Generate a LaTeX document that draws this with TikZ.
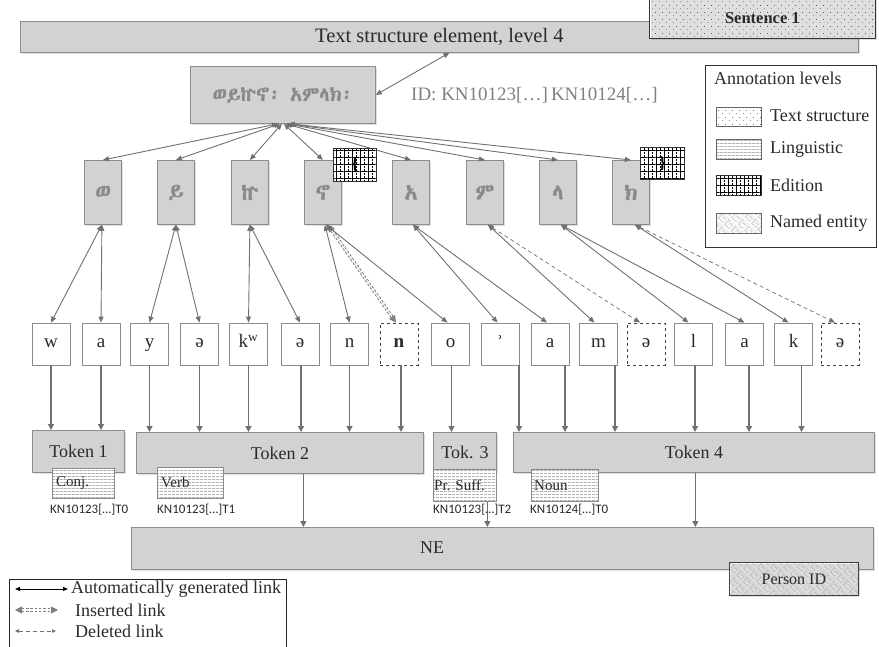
\documentclass[tikz,border=0pt]{standalone}
\usepackage{fontspec}
\setmainfont{Liberation Serif}
\newfontfamily\idfont{Carlito}
\newfontfamily\ipafont{DejaVu Serif}
\newfontfamily\ethfont[AutoFakeBold=1.2]{Abyssinica SIL}
\usetikzlibrary{arrows.meta,patterns,patterns.meta,shadows}
\definecolor{boxfill}{HTML}{D1D2D4}
\definecolor{boxline}{HTML}{8C8C8E}
\definecolor{arrc}{HTML}{707070}
\definecolor{ethgray}{HTML}{8A8A8A}
\definecolor{txt}{HTML}{2A2A2A}
\tikzdeclarepattern{name=tsdots, type=uncolored,
  bounding box={(0pt,0pt) and (7pt,7pt)}, tile size={(7pt,7pt)},
  code={\fill (1.5pt,1.5pt) circle (0.45pt); \fill (5pt,5pt) circle (0.45pt);}}
\tikzdeclarepattern{name=linglines, type=uncolored,
  bounding box={(0pt,-0.5pt) and (4pt,2.5pt)}, tile size={(4pt,3pt)},
  code={\draw[line width=0.55pt] (0pt,0pt) -- (4pt,0pt);}}
\tikzdeclarepattern{name=edgrid, type=uncolored,
  bounding box={(-0.5pt,-0.5pt) and (7.5pt,6.5pt)}, tile size={(8pt,7pt)},
  code={\draw[line width=0.5pt] (0pt,0pt) -- (8pt,0pt);
        \draw[line width=0.5pt] (0pt,0pt) -- (0pt,7pt);
        \draw[line width=0.3pt, dash pattern=on 0.6pt off 0.9pt] (4pt,0pt) -- (4pt,7pt);}}
\tikzdeclarepattern{name=meander, type=uncolored,
  bounding box={(0pt,0pt) and (10pt,10pt)}, tile size={(10pt,10pt)},
  tile transformation={rotate=45},
  code={\draw[line width=0.4pt] (0.5pt,0.5pt) -- (9.5pt,0.5pt) -- (9.5pt,9.5pt) -- (2.5pt,9.5pt) -- (2.5pt,3pt) -- (7pt,3pt) -- (7pt,7pt) -- (5pt,7pt);}}
\begin{document}
\begin{tikzpicture}[x=1pt,y=-1pt,
  gbox/.style={draw=boxline, fill=boxfill, line width=0.8pt, inner sep=0pt, anchor=north west,
     drop shadow={opacity=0.25, shadow xshift=1.5pt, shadow yshift=-1.5pt}},
  fid/.style={gbox, minimum width=37pt, minimum height=64pt, text=ethgray, font=\ethfont\bfseries\fontsize{22}{22}\selectfont},
  lbox/.style={draw=boxline, fill=white, line width=0.8pt, minimum width=38pt, minimum height=42pt, inner sep=0pt,
     text height=12pt, text depth=4pt, font=\fontsize{19}{19}\selectfont, text=txt},
  dbox/.style={lbox, draw=black!75, dashed},
  lingbox/.style={draw=boxline, line width=0.8pt, pattern=linglines, pattern color=black!45, preaction={fill=white},
     anchor=north west, inner sep=0pt},
  lingtxt/.style={anchor=west, font=\fontsize{15}{15}\selectfont, text=txt, inner sep=0pt},
  idtxt/.style={anchor=west, font=\idfont\fontsize{13}{13}\selectfont, text=txt, inner sep=0pt},
  edbox/.style={draw=black!80, line width=0.8pt, pattern=edgrid, pattern color=black, preaction={fill=white},
     anchor=north west, inner sep=0pt, font=\bfseries\fontsize{17}{17}\selectfont},
  lnk/.style={draw=arrc, line width=0.9pt, {Triangle[length=6pt,width=5pt]}-{Triangle[length=6pt,width=5pt]}},
  inslnk/.style={draw=arrc!90, line width=1pt, double distance=1.2pt, dash pattern=on 2.5pt off 1.8pt,
     {Triangle[length=7pt,width=7pt]}-{Triangle[length=7pt,width=7pt]}},
  dellnk/.style={draw=arrc, line width=0.7pt, dash pattern=on 4pt off 3pt,
     {Triangle[length=6pt,width=5pt]}-{Triangle[length=6pt,width=5pt]}},
  tokarr/.style={draw=arrc, line width=1.4pt, -{Triangle[length=6pt,width=6pt]}},
  lab/.style={font=\fontsize{18}{18}\selectfont, text=txt, inner sep=0pt}
]
\useasboundingbox (0,0) rectangle (879,647);

% top structure
\node[gbox, minimum width=838pt, minimum height=31pt, font=\fontsize{20.5}{20.5}\selectfont, text=txt] (tse) at (20,21) {Text structure element, level 4};
\node[draw=black!80, line width=0.8pt, pattern=tsdots, pattern color=black!80, preaction={fill=white}, anchor=north west,
      minimum width=226pt, minimum height=40pt, inner sep=0pt, font=\bfseries\fontsize{16.5}{16.5}\selectfont, text=txt,
      drop shadow={opacity=0.25, shadow xshift=1.5pt, shadow yshift=-1.5pt}] (sent) at (649,-2) {Sentence 1};

% word
\node[gbox, minimum width=185pt, minimum height=57pt, text=ethgray, font=\ethfont\bfseries\fontsize{20}{20}\selectfont] (wb) at (190,66) {ወይኵኖ፡ አምላክ፡};
\node[anchor=west, inner sep=0pt, text=black!50, font=\fontsize{19}{19}\selectfont] (id) at (411,95) {ID: KN10123[…]\,KN10124[…]};
\draw[lnk] ([xshift=10pt]tse.south) -- (wb.east);

% fidel boxes
\node[fid] (f1) at (84,160) {ወ};
\node[fid] (f2) at (157,160) {ይ};
\node[fid] (f3) at (231,160) {ኵ};
\node[fid] (f4) at (304,160) {ኖ};
\node[fid] (f5) at (392,160) {አ};
\node[fid] (f6) at (466,160) {ም};
\node[fid] (f7) at (539,160) {ላ};
\node[fid] (f8) at (612,160) {ክ};

\foreach \f/\s in {f1/-5,f2/-3,f3/-1,f4/1,f5/3,f6/4,f7/5,f8/6}{
  \draw[lnk] ([xshift=\s pt]wb.south) -- (\f.north);
}

\node[edbox, minimum width=43pt, minimum height=33pt] (e1) at (333,148) {\{};
\node[edbox, minimum width=44pt, minimum height=32pt] (e2) at (640,147) {\}};

% letters
\foreach \n/\x/\t/\st in {0/51/w/lbox, 1/101/a/lbox, 2/149.5/y/lbox, 3/199.5/ə/lbox, 4/248.5/k\textsuperscript{w}/lbox,
   5/300/ə/lbox, 6/349.5/n/lbox, 7/399/\textbf{n}/dbox, 8/450.5/o/lbox, 9/500.5/{\ipafont\fontsize{16}{16}\selectfont ʾ}/lbox, 10/550/a/lbox,
   11/598.5/m/lbox, 12/646/ə/dbox, 13/693.5/l/lbox, 14/744.5/a/lbox, 15/793.5/k/lbox, 16/840/ə/dbox}{
  \node[\st] (l\n) at (\x,344) {\t};
}

% fidel-letter links
\draw[lnk] ([xshift=-1pt]f1.south) -- (l0.north);
\draw[lnk] ([xshift=-1pt]f1.south) -- (l1.north);
\draw[lnk] (f2.south) -- (l2.north);
\draw[lnk] (f2.south) -- (l3.north);
\draw[lnk] (f3.south) -- (l4.north);
\draw[lnk] (f3.south) -- (l5.north);
\draw[lnk] ([xshift=2pt]f4.south) -- (l6.north);
\draw[inslnk] ([xshift=5pt]f4.south) -- ([xshift=-3pt]l7.north);
\draw[lnk] ([xshift=3pt]f4.south) -- ([xshift=-3pt]l8.north);
\draw[lnk] ([xshift=2pt]f5.south) -- ([xshift=-3pt]l9.north);
\draw[lnk] ([xshift=2pt]f5.south) -- ([xshift=-3pt]l10.north);
\draw[lnk] ([xshift=3pt]f6.south) -- ([xshift=-4pt]l11.north);
\draw[dellnk] ([xshift=3pt]f6.south) -- ([xshift=-6pt]l12.north);
\draw[lnk] ([xshift=3pt]f7.south) -- ([xshift=-5pt]l13.north);
\draw[lnk] ([xshift=3pt]f7.south) -- (l14.north);
\draw[lnk] ([xshift=4pt]f8.south) -- ([xshift=-5pt]l15.north);
\draw[dellnk] ([xshift=4pt]f8.south) -- ([xshift=-5pt]l16.north);

% tokens
\node[gbox, minimum width=92pt, minimum height=42pt, lab] (t1) at (32,430) {Token 1};
\node[gbox, minimum width=287pt, minimum height=41pt, lab] (t2) at (136,432) {Token 2};
\node[gbox, minimum width=63pt, minimum height=40pt, lab] (t3) at (433,432) {Tok. 3};
\node[gbox, minimum width=361pt, minimum height=40pt, lab] (t4) at (513,432) {Token 4};

\foreach \l/\t/\s in {l0/t1/0, l1/t1/0, l2/t2/0, l3/t2/0, l4/t2/0, l5/t2/1, l6/t2/0, l7/t2/2, l8/t3/1,
   l9/t4/18.5, l10/t4/15, l11/t4/16.5, l13/t4/1.5, l14/t4/4.5, l15/t4/8}{
  \draw[tokarr] ([xshift=\s pt]\l.south) -- ([xshift=\s pt]\l.south |- \t.north);
}

% linguistic annotations
\node[lingbox, minimum width=62pt, minimum height=30pt] (conj) at (52,468) {};
\node[lingbox, minimum width=66pt, minimum height=31pt] (verb) at (157,467) {};
\node[lingbox, minimum width=63pt, minimum height=32pt] (prs) at (433,469) {};
\node[lingbox, minimum width=67pt, minimum height=32pt] (noun) at (531,469) {};
\node[lingtxt] (conjt) at ([xshift=4pt]conj.west) {Conj.};
\node[lingtxt] (verbt) at ([xshift=4pt]verb.west) {Verb};
\node[lingtxt] (prst) at ([xshift=1pt]prs.west) {Pr. Suff.};
\node[lingtxt] (nount) at ([xshift=3pt]noun.west) {Noun};
\node[idtxt] (id1) at (50,510) {KN10123[…]T0};
\node[idtxt] (id2) at (157,510) {KN10123[…]T1};
\node[idtxt] (id3) at (433,510) {KN10123[…]T2};
\node[idtxt] (id4) at (530,510) {KN10124[…]T0};

% NE
\node[gbox, minimum width=742pt, minimum height=42pt] (ne) at (131,527) {};
\node[lab] (net) at (432,548) {NE};
\draw[tokarr] ([xshift=23.5pt]t2.south) -- ([xshift=23.5pt]t2.south |- ne.north);
\draw[tokarr] ([xshift=22.5pt]prs.south) -- ([xshift=22.5pt]prs.south |- ne.north);
\draw[tokarr] ([xshift=1.5pt]t4.south) -- ([xshift=1.5pt]t4.south |- ne.north);
\node[draw=black!75, line width=0.8pt, pattern=meander, pattern color=black!40, preaction={fill=white}, anchor=north west,
      minimum width=129pt, minimum height=33pt, inner sep=0pt, font=\fontsize{16}{16}\selectfont, text=txt,
      drop shadow={opacity=0.25, shadow xshift=1.5pt, shadow yshift=-1.5pt}] (pid) at (729,562) {Person ID};

% annotation levels legend
\node[draw=black!80, line width=0.9pt, fill=white, anchor=north west, minimum width=171pt, minimum height=182pt, inner sep=0pt] (leg) at (705,65) {};
\node[lab, anchor=west] (legt) at (714,78) {Annotation levels};
\node[draw=black!60, line width=0.7pt, pattern=tsdots, pattern color=black!80, preaction={fill=white}, anchor=north west, minimum width=45pt, minimum height=19pt, inner sep=0pt] (s1) at (716,107) {};
\node[draw=black!60, line width=0.7pt, pattern=linglines, pattern color=black!45, preaction={fill=white}, anchor=north west, minimum width=45pt, minimum height=20pt, inner sep=0pt] (s2) at (716,139) {};
\node[draw=black!80, line width=0.7pt, pattern=edgrid, pattern color=black, preaction={fill=white}, anchor=north west, minimum width=45pt, minimum height=20pt, inner sep=0pt] (s3) at (716,175) {};
\node[draw=black!60, line width=0.7pt, pattern=meander, pattern color=black!40, preaction={fill=white}, anchor=north west, minimum width=45pt, minimum height=20pt, inner sep=0pt] (s4) at (716,213) {};
\node[lab, anchor=west] (s1t) at (770,116) {Text structure};
\node[lab, anchor=west] (s2t) at (770,149) {Linguistic};
\node[lab, anchor=west] (s3t) at (770,185) {Edition};
\node[lab, anchor=west] (s4t) at (770,223) {Named entity};

% link legend
\draw[black!85, line width=0.8pt] (9,647) -- (9,579) -- (286,579) -- (286,647);
\coordinate (a1) at (15,589); \coordinate (b1) at (68,589);
\coordinate (a2) at (15,610); \coordinate (b2) at (58,610);
\coordinate (a3) at (15,631); \coordinate (b3) at (56,631);
\draw[black, line width=0.8pt, {Triangle[length=5pt,width=4pt]}-{Triangle[length=5pt,width=4pt]}] (a1) -- (b1);
\draw[inslnk] (a2) -- (b2);
\draw[dellnk, {Triangle[length=4pt,width=3.5pt]}-{Triangle[length=4pt,width=3.5pt]}] (a3) -- (b3);
\node[lab, anchor=west] (lg1) at (71,589) {Automatically generated link};
\node[lab, anchor=west] (lg2) at (75,610) {Inserted link};
\node[lab, anchor=west] (lg3) at (75,631) {Deleted link};
\end{tikzpicture}
\end{document}
